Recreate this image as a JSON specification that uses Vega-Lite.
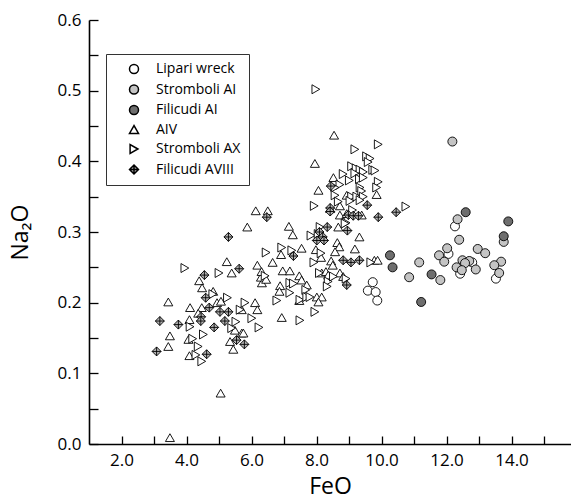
{
 "$schema": "https://vega.github.io/schema/vega-lite/v6.json",
 "width": 482, "height": 424,
 "autosize": "none",
 "padding": {"left": 89, "top": 20, "right": 0, "bottom": 59},
 "background": "white",
 "config": {
  "view": {"stroke": null},
  "font": "Open Sans",
  "axis": {"grid": false, "domainColor": "black", "domainWidth": 1.6, "ticks": true, "tickColor": "black", "tickWidth": 1.3,
   "labelColor": "black", "labelFont": "Open Sans", "labelFontSize": 17, "titleFont": "Open Sans",
   "titleFontSize": 23, "titleFontWeight": "normal", "titleColor": "black"}
 },
 "data": {"values": [
  {"series":"Lipari wreck","FeO":12.26,"Na2O":0.308},{"series":"Lipari wreck","FeO":12.06,"Na2O":0.269},{"series":"Lipari wreck","FeO":12.79,"Na2O":0.257},{"series":"Lipari wreck","FeO":12.42,"Na2O":0.241},{"series":"Lipari wreck","FeO":13.52,"Na2O":0.234},{"series":"Lipari wreck","FeO":9.73,"Na2O":0.229},{"series":"Lipari wreck","FeO":9.58,"Na2O":0.217},{"series":"Lipari wreck","FeO":9.82,"Na2O":0.215},{"series":"Lipari wreck","FeO":9.87,"Na2O":0.203},
  {"series":"Stromboli AI","FeO":12.18,"Na2O":0.428},{"series":"Stromboli AI","FeO":12.34,"Na2O":0.318},{"series":"Stromboli AI","FeO":13.76,"Na2O":0.286},{"series":"Stromboli AI","FeO":12.39,"Na2O":0.289},{"series":"Stromboli AI","FeO":11.16,"Na2O":0.257},{"series":"Stromboli AI","FeO":10.85,"Na2O":0.236},{"series":"Stromboli AI","FeO":11.81,"Na2O":0.232},{"series":"Stromboli AI","FeO":12.02,"Na2O":0.277},{"series":"Stromboli AI","FeO":11.77,"Na2O":0.267},{"series":"Stromboli AI","FeO":11.93,"Na2O":0.258},{"series":"Stromboli AI","FeO":12.49,"Na2O":0.26},{"series":"Stromboli AI","FeO":12.7,"Na2O":0.259},{"series":"Stromboli AI","FeO":12.57,"Na2O":0.256},{"series":"Stromboli AI","FeO":12.31,"Na2O":0.25},{"series":"Stromboli AI","FeO":12.47,"Na2O":0.246},{"series":"Stromboli AI","FeO":12.9,"Na2O":0.247},{"series":"Stromboli AI","FeO":12.96,"Na2O":0.276},{"series":"Stromboli AI","FeO":13.19,"Na2O":0.27},{"series":"Stromboli AI","FeO":13.68,"Na2O":0.258},{"series":"Stromboli AI","FeO":13.47,"Na2O":0.253},{"series":"Stromboli AI","FeO":13.62,"Na2O":0.242},
  {"series":"Filicudi AI","FeO":12.59,"Na2O":0.328},{"series":"Filicudi AI","FeO":13.9,"Na2O":0.315},{"series":"Filicudi AI","FeO":13.76,"Na2O":0.294},{"series":"Filicudi AI","FeO":10.26,"Na2O":0.267},{"series":"Filicudi AI","FeO":10.34,"Na2O":0.25},{"series":"Filicudi AI","FeO":11.54,"Na2O":0.24},{"series":"Filicudi AI","FeO":11.22,"Na2O":0.201},
  {"series":"AIV","FeO":6.13,"Na2O":0.33},{"series":"AIV","FeO":6.5,"Na2O":0.33},{"series":"AIV","FeO":5.87,"Na2O":0.307},{"series":"AIV","FeO":5.24,"Na2O":0.258},{"series":"AIV","FeO":5.39,"Na2O":0.242},{"series":"AIV","FeO":4.39,"Na2O":0.231},{"series":"AIV","FeO":4.48,"Na2O":0.221},{"series":"AIV","FeO":3.44,"Na2O":0.201},{"series":"AIV","FeO":4.82,"Na2O":0.216},{"series":"AIV","FeO":4.94,"Na2O":0.2},{"series":"AIV","FeO":5.06,"Na2O":0.202},{"series":"AIV","FeO":4.11,"Na2O":0.193},{"series":"AIV","FeO":4.47,"Na2O":0.193},{"series":"AIV","FeO":4.36,"Na2O":0.185},{"series":"AIV","FeO":4.09,"Na2O":0.176},{"series":"AIV","FeO":5.49,"Na2O":0.161},{"series":"AIV","FeO":5.7,"Na2O":0.157},{"series":"AIV","FeO":3.49,"Na2O":0.153},{"series":"AIV","FeO":4.06,"Na2O":0.148},{"series":"AIV","FeO":5.34,"Na2O":0.145},{"series":"AIV","FeO":3.44,"Na2O":0.138},{"series":"AIV","FeO":5.44,"Na2O":0.134},{"series":"AIV","FeO":4.09,"Na2O":0.125},{"series":"AIV","FeO":5.05,"Na2O":0.072},{"series":"AIV","FeO":3.49,"Na2O":0.009},{"series":"AIV","FeO":6.65,"Na2O":0.257},{"series":"AIV","FeO":6.18,"Na2O":0.253},{"series":"AIV","FeO":6.32,"Na2O":0.228},{"series":"AIV","FeO":6.29,"Na2O":0.236},{"series":"AIV","FeO":6.45,"Na2O":0.233},{"series":"AIV","FeO":7.15,"Na2O":0.308},{"series":"AIV","FeO":7.27,"Na2O":0.296},{"series":"AIV","FeO":8.67,"Na2O":0.307},{"series":"AIV","FeO":9.32,"Na2O":0.293},{"series":"AIV","FeO":8.64,"Na2O":0.285},{"series":"AIV","FeO":8.7,"Na2O":0.279},{"series":"AIV","FeO":9.18,"Na2O":0.276},{"series":"AIV","FeO":7.54,"Na2O":0.277},{"series":"AIV","FeO":6.91,"Na2O":0.268},{"series":"AIV","FeO":7.98,"Na2O":0.275},{"series":"AIV","FeO":8.14,"Na2O":0.264},{"series":"AIV","FeO":8.57,"Na2O":0.272},{"series":"AIV","FeO":8.45,"Na2O":0.259},{"series":"AIV","FeO":8.5,"Na2O":0.253},{"series":"AIV","FeO":9.78,"Na2O":0.26},{"series":"AIV","FeO":9.88,"Na2O":0.26},{"series":"AIV","FeO":6.31,"Na2O":0.244},{"series":"AIV","FeO":6.96,"Na2O":0.245},{"series":"AIV","FeO":7.18,"Na2O":0.245},{"series":"AIV","FeO":7.47,"Na2O":0.238},{"series":"AIV","FeO":7.54,"Na2O":0.232},{"series":"AIV","FeO":6.88,"Na2O":0.224},{"series":"AIV","FeO":6.86,"Na2O":0.216},{"series":"AIV","FeO":7.7,"Na2O":0.225},{"series":"AIV","FeO":7.47,"Na2O":0.203},{"series":"AIV","FeO":8.01,"Na2O":0.208},{"series":"AIV","FeO":8.16,"Na2O":0.208},{"series":"AIV","FeO":8.06,"Na2O":0.201},{"series":"AIV","FeO":8.16,"Na2O":0.242},{"series":"AIV","FeO":8.29,"Na2O":0.244},{"series":"AIV","FeO":8.36,"Na2O":0.239},{"series":"AIV","FeO":8.72,"Na2O":0.242},{"series":"AIV","FeO":8.82,"Na2O":0.237},{"series":"AIV","FeO":6.93,"Na2O":0.179},{"series":"AIV","FeO":6.11,"Na2O":0.2},{"series":"AIV","FeO":6.18,"Na2O":0.19},{"series":"AIV","FeO":5.7,"Na2O":0.19},{"series":"AIV","FeO":5.75,"Na2O":0.157},{"series":"AIV","FeO":8.54,"Na2O":0.437},{"series":"AIV","FeO":7.95,"Na2O":0.397},{"series":"AIV","FeO":8.52,"Na2O":0.377},{"series":"AIV","FeO":8.06,"Na2O":0.359},{"series":"AIV","FeO":9.85,"Na2O":0.353},{"series":"AIV","FeO":8.93,"Na2O":0.352},{"series":"AIV","FeO":8.42,"Na2O":0.333},{"series":"AIV","FeO":8.72,"Na2O":0.324},{"series":"AIV","FeO":8.93,"Na2O":0.326},{"series":"AIV","FeO":9.39,"Na2O":0.324},{"series":"AIV","FeO":8.72,"Na2O":0.337},
  {"series":"Stromboli AX","FeO":3.95,"Na2O":0.249},{"series":"Stromboli AX","FeO":5.0,"Na2O":0.242},{"series":"Stromboli AX","FeO":4.81,"Na2O":0.212},{"series":"Stromboli AX","FeO":5.26,"Na2O":0.207},{"series":"Stromboli AX","FeO":5.8,"Na2O":0.2},{"series":"Stromboli AX","FeO":5.65,"Na2O":0.19},{"series":"Stromboli AX","FeO":4.11,"Na2O":0.166},{"series":"Stromboli AX","FeO":5.52,"Na2O":0.173},{"series":"Stromboli AX","FeO":5.39,"Na2O":0.164},{"series":"Stromboli AX","FeO":4.52,"Na2O":0.155},{"series":"Stromboli AX","FeO":4.19,"Na2O":0.149},{"series":"Stromboli AX","FeO":4.36,"Na2O":0.138},{"series":"Stromboli AX","FeO":4.29,"Na2O":0.126},{"series":"Stromboli AX","FeO":4.47,"Na2O":0.117},{"series":"Stromboli AX","FeO":6.45,"Na2O":0.271},{"series":"Stromboli AX","FeO":6.42,"Na2O":0.238},{"series":"Stromboli AX","FeO":6.78,"Na2O":0.203},{"series":"Stromboli AX","FeO":8.11,"Na2O":0.307},{"series":"Stromboli AX","FeO":8.91,"Na2O":0.313},{"series":"Stromboli AX","FeO":7.83,"Na2O":0.295},{"series":"Stromboli AX","FeO":6.93,"Na2O":0.278},{"series":"Stromboli AX","FeO":7.24,"Na2O":0.274},{"series":"Stromboli AX","FeO":8.14,"Na2O":0.27},{"series":"Stromboli AX","FeO":7.92,"Na2O":0.257},{"series":"Stromboli AX","FeO":9.67,"Na2O":0.257},{"series":"Stromboli AX","FeO":7.18,"Na2O":0.228},{"series":"Stromboli AX","FeO":7.29,"Na2O":0.227},{"series":"Stromboli AX","FeO":7.18,"Na2O":0.214},{"series":"Stromboli AX","FeO":7.67,"Na2O":0.218},{"series":"Stromboli AX","FeO":7.49,"Na2O":0.204},{"series":"Stromboli AX","FeO":7.7,"Na2O":0.208},{"series":"Stromboli AX","FeO":7.8,"Na2O":0.208},{"series":"Stromboli AX","FeO":8.09,"Na2O":0.242},{"series":"Stromboli AX","FeO":8.36,"Na2O":0.23},{"series":"Stromboli AX","FeO":8.52,"Na2O":0.237},{"series":"Stromboli AX","FeO":8.33,"Na2O":0.223},{"series":"Stromboli AX","FeO":8.91,"Na2O":0.234},{"series":"Stromboli AX","FeO":7.95,"Na2O":0.187},{"series":"Stromboli AX","FeO":7.49,"Na2O":0.175},{"series":"Stromboli AX","FeO":6.23,"Na2O":0.165},{"series":"Stromboli AX","FeO":6.01,"Na2O":0.178},{"series":"Stromboli AX","FeO":7.98,"Na2O":0.502},{"series":"Stromboli AX","FeO":9.9,"Na2O":0.424},{"series":"Stromboli AX","FeO":9.18,"Na2O":0.417},{"series":"Stromboli AX","FeO":9.54,"Na2O":0.407},{"series":"Stromboli AX","FeO":9.65,"Na2O":0.404},{"series":"Stromboli AX","FeO":9.59,"Na2O":0.399},{"series":"Stromboli AX","FeO":9.08,"Na2O":0.393},{"series":"Stromboli AX","FeO":9.22,"Na2O":0.39},{"series":"Stromboli AX","FeO":9.34,"Na2O":0.388},{"series":"Stromboli AX","FeO":9.44,"Na2O":0.385},{"series":"Stromboli AX","FeO":9.18,"Na2O":0.383},{"series":"Stromboli AX","FeO":9.73,"Na2O":0.388},{"series":"Stromboli AX","FeO":9.8,"Na2O":0.387},{"series":"Stromboli AX","FeO":8.82,"Na2O":0.382},{"series":"Stromboli AX","FeO":9.32,"Na2O":0.375},{"series":"Stromboli AX","FeO":9.44,"Na2O":0.377},{"series":"Stromboli AX","FeO":8.72,"Na2O":0.367},{"series":"Stromboli AX","FeO":8.57,"Na2O":0.363},{"series":"Stromboli AX","FeO":9.01,"Na2O":0.373},{"series":"Stromboli AX","FeO":9.9,"Na2O":0.371},{"series":"Stromboli AX","FeO":9.85,"Na2O":0.363},{"series":"Stromboli AX","FeO":9.34,"Na2O":0.363},{"series":"Stromboli AX","FeO":9.39,"Na2O":0.358},{"series":"Stromboli AX","FeO":8.57,"Na2O":0.352},{"series":"Stromboli AX","FeO":9.08,"Na2O":0.35},{"series":"Stromboli AX","FeO":9.24,"Na2O":0.35},{"series":"Stromboli AX","FeO":9.44,"Na2O":0.35},{"series":"Stromboli AX","FeO":8.67,"Na2O":0.343},{"series":"Stromboli AX","FeO":9.03,"Na2O":0.344},{"series":"Stromboli AX","FeO":9.34,"Na2O":0.345},{"series":"Stromboli AX","FeO":7.93,"Na2O":0.337},{"series":"Stromboli AX","FeO":9.11,"Na2O":0.331},{"series":"Stromboli AX","FeO":8.88,"Na2O":0.312},{"series":"Stromboli AX","FeO":10.75,"Na2O":0.336},{"series":"Stromboli AX","FeO":8.05,"Na2O":0.297},
  {"series":"Filicudi AVIII","FeO":5.29,"Na2O":0.293},{"series":"Filicudi AVIII","FeO":5.62,"Na2O":0.248},{"series":"Filicudi AVIII","FeO":4.55,"Na2O":0.239},{"series":"Filicudi AVIII","FeO":4.59,"Na2O":0.207},{"series":"Filicudi AVIII","FeO":4.7,"Na2O":0.193},{"series":"Filicudi AVIII","FeO":4.45,"Na2O":0.18},{"series":"Filicudi AVIII","FeO":4.44,"Na2O":0.174},{"series":"Filicudi AVIII","FeO":5.03,"Na2O":0.187},{"series":"Filicudi AVIII","FeO":5.29,"Na2O":0.187},{"series":"Filicudi AVIII","FeO":3.18,"Na2O":0.174},{"series":"Filicudi AVIII","FeO":3.75,"Na2O":0.169},{"series":"Filicudi AVIII","FeO":4.85,"Na2O":0.165},{"series":"Filicudi AVIII","FeO":5.18,"Na2O":0.174},{"series":"Filicudi AVIII","FeO":5.54,"Na2O":0.147},{"series":"Filicudi AVIII","FeO":5.78,"Na2O":0.141},{"series":"Filicudi AVIII","FeO":3.08,"Na2O":0.131},{"series":"Filicudi AVIII","FeO":4.62,"Na2O":0.127},{"series":"Filicudi AVIII","FeO":6.47,"Na2O":0.321},{"series":"Filicudi AVIII","FeO":8.33,"Na2O":0.307},{"series":"Filicudi AVIII","FeO":8.95,"Na2O":0.302},{"series":"Filicudi AVIII","FeO":8.09,"Na2O":0.3},{"series":"Filicudi AVIII","FeO":8.19,"Na2O":0.293},{"series":"Filicudi AVIII","FeO":8.01,"Na2O":0.288},{"series":"Filicudi AVIII","FeO":8.23,"Na2O":0.288},{"series":"Filicudi AVIII","FeO":7.29,"Na2O":0.266},{"series":"Filicudi AVIII","FeO":8.82,"Na2O":0.26},{"series":"Filicudi AVIII","FeO":9.06,"Na2O":0.257},{"series":"Filicudi AVIII","FeO":9.32,"Na2O":0.26},{"series":"Filicudi AVIII","FeO":8.93,"Na2O":0.225},{"series":"Filicudi AVIII","FeO":8.44,"Na2O":0.365},{"series":"Filicudi AVIII","FeO":9.56,"Na2O":0.338},{"series":"Filicudi AVIII","FeO":8.42,"Na2O":0.334},{"series":"Filicudi AVIII","FeO":8.42,"Na2O":0.329},{"series":"Filicudi AVIII","FeO":8.98,"Na2O":0.324},{"series":"Filicudi AVIII","FeO":9.13,"Na2O":0.323},{"series":"Filicudi AVIII","FeO":9.29,"Na2O":0.323},{"series":"Filicudi AVIII","FeO":9.9,"Na2O":0.321},{"series":"Filicudi AVIII","FeO":10.45,"Na2O":0.328}
 ]},
 "mark": {"type": "point", "filled": true, "stroke": "black", "strokeWidth": 0.9, "opacity": 1},
 "encoding": {
  "x": {"field": "FeO", "type": "quantitative",
   "scale": {"domain": [1, 15.83], "nice": false, "zero": false},
   "axis": {"title": "FeO", "values": [2,3,4,5,6,7,8,9,10,11,12,13,14,15], "ticks": true, "tickSize": -8, "labelPadding": 16,
    "labelExpr": "datum.value % 2 === 0 ? format(datum.value, '.1f') : ''", "labelFlush": false, "labelOverlap": false,
    "titlePadding": 7,
    "encode": {"ticks": {"update": {"y2": {"signal": "datum.value % 2 === 0 ? -8 : -4"}}}}}},
  "y": {"field": "Na2O", "type": "quantitative",
   "scale": {"domain": [0, 0.6], "nice": false},
   "axis": {"title": "Na₂O", "values": [0,0.05,0.1,0.15,0.2,0.25,0.3,0.35,0.4,0.45,0.5,0.55,0.6], "ticks": true, "tickSize": -9, "labelPadding": 17,
    "labelExpr": "round(datum.value*20) % 2 === 0 ? format(datum.value, '.1f') : ''", "labelFlush": false, "labelOverlap": false,
    "titlePadding": 25,
    "encode": {"ticks": {"update": {"x2": {"signal": "round(datum.value*20) % 2 === 0 ? 9 : 5"}}}}}},
  "shape": {"field": "series", "type": "nominal",
   "scale": {"domain": ["Lipari wreck","Stromboli AI","Filicudi AI","AIV","Stromboli AX","Filicudi AVIII"],
    "range": ["circle","circle","circle","triangle-up","triangle-right","M0,-1L1,0L0,1L-1,0Z M0,-1L0,1 M-1,0L1,0"]},
   "legend": {"title": null, "orient": "none", "legendX": 17, "legendY": 34, "strokeColor": "#333", "padding": 8, "fillColor": "white",
    "labelFont": "Open Sans", "labelFontSize": 14, "labelColor": "black", "rowPadding": 4.5, "symbolOffset": 13, "labelOffset": 15,
    "symbolOpacity": 1, "labelExpr": "datum.label + '\u00a0\u00a0\u00a0'",
    "encode": {"symbols": {"update": {"stroke": {"value": "black"}, "strokeWidth": {"value": 0.9}}}}}},
  "fill": {"field": "series", "type": "nominal",
   "scale": {"domain": ["Lipari wreck","Stromboli AI","Filicudi AI","AIV","Stromboli AX","Filicudi AVIII"],
    "range": ["white","#c4c4c4","#6e6e6e","white","white","#b4b4b4"]},
   "legend": {"title": null, "orient": "none", "legendX": 17, "legendY": 34, "strokeColor": "#333", "padding": 8, "fillColor": "white",
    "labelFont": "Open Sans", "labelFontSize": 14, "labelColor": "black", "rowPadding": 4.5, "symbolOffset": 13, "labelOffset": 15,
    "symbolOpacity": 1, "labelExpr": "datum.label + '\u00a0\u00a0\u00a0'",
    "encode": {"symbols": {"update": {"stroke": {"value": "black"}, "strokeWidth": {"value": 0.9}}}}}},
  "size": {"field": "series", "type": "nominal",
   "scale": {"domain": ["Lipari wreck","Stromboli AI","Filicudi AI","AIV","Stromboli AX","Filicudi AVIII"],
    "range": [81, 81, 81, 40, 40, 40]},
   "legend": {"title": null, "orient": "none", "legendX": 17, "legendY": 34, "strokeColor": "#333", "padding": 8, "fillColor": "white",
    "labelFont": "Open Sans", "labelFontSize": 14, "labelColor": "black", "rowPadding": 4.5, "symbolOffset": 13, "labelOffset": 15,
    "symbolOpacity": 1, "labelExpr": "datum.label + '\u00a0\u00a0\u00a0'",
    "encode": {"symbols": {"update": {"stroke": {"value": "black"}, "strokeWidth": {"value": 0.9}}}}}}
 }
}
